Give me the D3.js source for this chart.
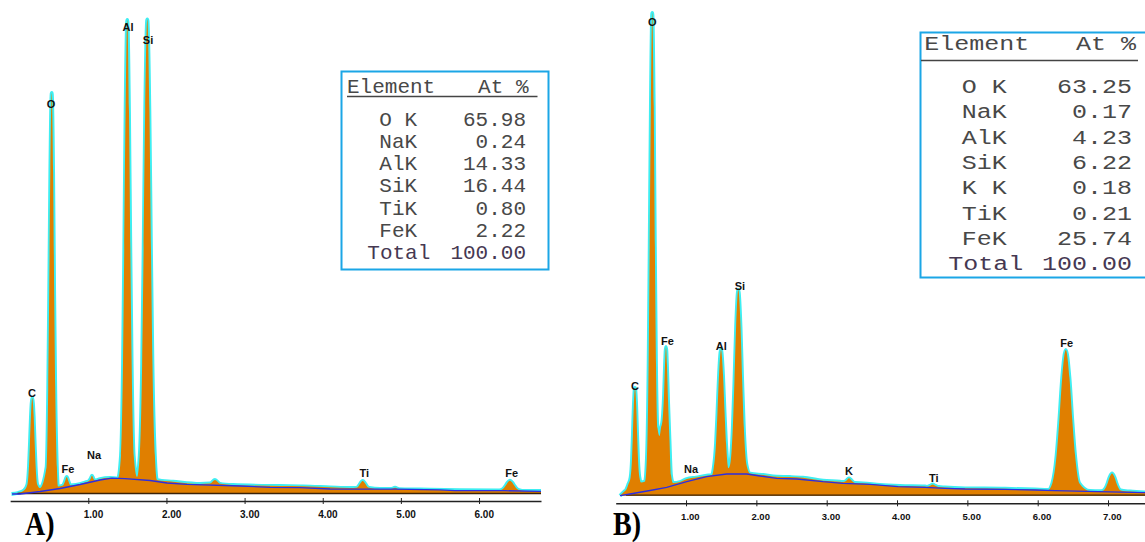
<!DOCTYPE html>
<html><head><meta charset="utf-8">
<script src="https://cdn.jsdelivr.net/npm/d3@7"></script>
<style>body{margin:0;background:#fff}svg{display:block}</style>
</head><body>
<svg id="c" width="1145" height="542"></svg>
<script>
// ---------------- DATA ----------------
const ticksA = [1, 2, 3, 4, 5, 6];
const ticksB = [1, 2, 3, 4, 5, 6, 7];

// spectrum A: [energy keV, counts]
const spectrumA = [
[0.017,0],[0.100,10],[0.177,35],
[0.221,96],[0.241,278],[0.253,505],[0.266,778],[0.283,960],[0.301,778],[0.314,505],[0.326,278],[0.346,96],
[0.382,60],
[0.466,267],[0.487,1055],[0.500,2040],[0.514,3222],[0.532,4010],[0.550,3222],[0.563,2040],[0.577,1055],[0.598,267],
[0.612,75],
[0.676,85],[0.701,125],[0.724,170],[0.747,125],[0.771,85],
[0.843,90],[0.958,115],
[1.009,130],[1.031,155],[1.047,183],[1.064,155],[1.086,135],
[1.150,150],[1.278,162],[1.380,157],
[1.418,384],[1.444,1301],[1.460,2448],[1.477,3823],[1.499,4740],[1.521,3823],[1.538,2448],[1.555,1301],[1.581,384],
[1.623,170],
[1.658,385],[1.689,1303],[1.708,2451],[1.728,3829],[1.755,4747],[1.782,3829],[1.802,2451],[1.821,1303],[1.852,385],
[1.879,140],[2.084,123],[2.429,100],
[2.557,105],[2.621,140],[2.685,102],
[2.852,90],[3.453,80],[3.747,77],[4.093,67],[4.349,60],
[4.429,62],[4.456,76],[4.472,94],[4.490,116],[4.511,130],[4.533,116],[4.551,94],[4.566,76],[4.593,62],
[4.733,50],
[4.873,50],[4.925,63],[4.976,49],
[5.245,45],[5.756,38],[6.243,35],
[6.283,40],[6.319,60],[6.342,84],[6.365,113],[6.396,133],[6.427,113],[6.451,84],[6.473,60],[6.509,40],
[6.588,30],[6.793,30]
];
const backgroundA = [
[0.024,0],[0.126,0],[0.382,25],[0.638,55],[0.894,95],[1.150,140],[1.303,158],[1.470,153],[1.790,135],
[2.007,110],[2.263,97],[2.941,80],[3.325,67],[3.709,63],[4.093,50],[4.925,48],[5.501,41],[5.692,33],
[6.332,33],[6.793,27]
];
const peakLabelsA = ["C","O","Fe","Na","Al","Si","Ti","Fe"];
const peakLabelEnergyA = [0.280,0.523,0.740,1.073,1.508,1.764,4.532,6.418];
const peakLabelCountsA = [970,3860,207,347,4633,4497,167,167];

const spectrumB = [
[0.061,0],[0.132,47],[0.147,57],[0.182,117],
[0.212,184],[0.232,372],[0.244,607],[0.257,889],[0.274,1077],[0.292,889],[0.305,607],[0.317,372],[0.337,184],
[0.360,132],[0.417,142],
[0.444,381],[0.468,1317],[0.483,2487],[0.500,3891],[0.520,4827],[0.541,3891],[0.557,2487],[0.573,1317],[0.594,677],[0.623,597],[0.644,677],
[0.666,757],[0.687,1007],[0.701,1307],[0.715,1487],[0.729,1307],[0.744,957],[0.765,557],[0.786,207],[0.815,127],
[0.914,137],[1.010,167],[1.142,182],[1.294,200],[1.369,207],
[1.393,274],[1.426,523],[1.447,835],[1.469,1208],[1.497,1457],[1.526,1208],[1.548,835],[1.569,523],[1.602,274],
[1.628,314],[1.665,681],[1.688,1140],[1.712,1690],[1.743,2057],[1.775,1690],[1.799,1140],[1.822,681],[1.858,314],
[1.910,222],[2.095,207],[2.289,190],[2.478,187],[2.663,180],[2.948,150],[3.189,140],
[3.232,137],[3.275,147],[3.296,162],[3.317,174],[3.339,162],[3.360,147],[3.403,127],
[3.516,124],[3.758,107],[4.043,97],[4.398,92],
[4.426,89],[4.469,99],[4.507,112],[4.546,99],[4.589,87],
[4.682,82],[4.967,74],[5.536,70],[5.962,62],[6.147,57],
[6.208,125],[6.269,406],[6.308,756],[6.348,1177],[6.400,1457],[6.452,1177],[6.492,756],[6.531,406],[6.592,125],
[6.744,47],[6.886,45],
[6.935,53],[6.974,89],[6.998,133],[7.024,186],[7.057,222],[7.090,186],[7.116,133],[7.140,89],[7.179,53],
[7.313,42],[7.526,32]
];
const backgroundB = [
[0.061,0],[0.203,17],[0.488,52],[0.725,84],[1.010,140],[1.294,190],[1.578,217],[1.863,217],[2.052,197],
[2.289,174],[2.574,167],[2.948,140],[3.232,124],[3.616,114],[4.014,90],[4.398,84],[4.682,74],[4.967,67],
[5.536,64],[5.962,57],[6.246,50],[6.858,40],[7.526,30]
];
const peakLabelsB = ["C","O","Fe","Na","Al","Si","K","Ti","Fe"];
const peakLabelEnergyB = [0.274,0.520,0.737,1.071,1.502,1.767,3.317,4.522,6.413];
const peakLabelCountsB = [1057,4697,1507,230,1457,2057,207,140,1490];

const tableHeader = ["Element", "At %"];
const elementsA = ["O K","NaK","AlK","SiK","TiK","FeK","Total"];
const atPercentA = ["65.98","0.24","14.33","16.44","0.80","2.22","100.00"];
const elementsB = ["O K","NaK","AlK","SiK","K K","TiK","FeK","Total"];
const atPercentB = ["63.25","0.17","4.23","6.22","0.18","0.21","25.74","100.00"];
const panelTags = ["A)", "B)"];

// ---------------- DRAW ----------------
const svg = d3.select("#c");

function drawPanel(p) {
  const x = d3.scaleLinear().domain(p.xDomain).range(p.xRange);
  const y = d3.scaleLinear().domain(p.yDomain).range(p.yRange);
  const g = svg.append("g");
  const line = d3.line().x(d => x(d[0])).y(d => y(d[1])).curve(d3.curveMonotoneX);
  const area = d3.area().x(d => x(d[0])).y0(y(0)).y1(d => y(d[1])).curve(d3.curveMonotoneX);
  g.append("path").datum(p.spectrum).attr("d", line)
    .attr("fill", "none").attr("stroke", "#3eeef2").attr("stroke-width", 3.8).attr("stroke-linejoin", "round");
  g.append("path").datum(p.spectrum).attr("d", area).attr("fill", "#e07f00");
  const last = p.spectrum[p.spectrum.length - 1];
  g.append("line").attr("x1", x(p.spectrum[0][0]) + 6).attr("x2", x(last[0]))
    .attr("y1", y(0) - 0.5).attr("y2", y(0) - 0.5).attr("stroke", "#3a2208").attr("stroke-width", 1.3);
  g.append("path").datum(p.background)
    .attr("d", d3.line().x(d => x(d[0])).y(d => y(d[1])))
    .attr("fill", "none").attr("stroke", "#2c2ee0").attr("stroke-width", 1.3);

  g.selectAll("text.pk").data(p.labels).enter().append("text")
    .attr("class", "pk")
    .attr("x", (d, i) => x(p.labelE[i]))
    .attr("y", (d, i) => y(p.labelC[i]))
    .attr("text-anchor", "middle")
    .attr("font-family", "'Liberation Sans', Arial, sans-serif")
    .attr("font-weight", "bold").attr("font-size", 11).attr("fill", "#111")
    .text(d => d);

  const axis = d3.axisBottom(x).tickValues(p.ticks).tickFormat(d3.format(".2f"))
    .tickSizeInner(3).tickSizeOuter(0);
  const ag = g.append("g").attr("transform", `translate(0,${p.axisY})`).call(axis);
  ag.select(".domain").attr("stroke", "#222").attr("stroke-width", 1.4);
  ag.selectAll(".tick line").attr("y1", -3).attr("y2", 3).attr("stroke", "#222");
  ag.selectAll(".tick text").attr("dy", null).attr("y", p.labelDy).attr("dx", p.labelDx)
    .attr("font-family", "'Liberation Sans', Arial, sans-serif")
    .attr("font-weight", "bold").attr("font-size", p.tickFont).attr("fill", "#111");

  svg.append("text").attr("transform", `translate(${p.tagX},${p.tagY}) scale(0.85,1)`)
    .attr("font-family", "'Liberation Serif', 'Times New Roman', serif")
    .attr("font-weight", "bold").attr("font-size", p.tagFont).attr("fill", "#000").text(p.tag);
}

function drawTable(t) {
  const g = svg.append("g");
  g.append("rect").attr("x", t.box[0]).attr("y", t.box[1]).attr("width", t.box[2]).attr("height", t.box[3])
    .attr("fill", "#fff").attr("stroke", "#1ba6e6").attr("stroke-width", 2);
  const font = "'Liberation Mono', 'Courier New', monospace";
  const txt = (s, xx, yy, anchor, color) => g.append("text")
    .attr("transform", `translate(${xx},${yy}) scale(${t.sx},1)`)
    .attr("text-anchor", anchor).attr("font-family", font).attr("font-size", t.font)
    .attr("fill", color || "#484848").text(s);
  txt(tableHeader[0], t.headX0, t.headY, "start");
  txt(tableHeader[1], t.headX1, t.headY, "end");
  g.append("line").attr("x1", t.ulX0).attr("x2", t.ulX1).attr("y1", t.ulY).attr("y2", t.ulY)
    .attr("stroke", "#444").attr("stroke-width", 1.3);
  t.names.forEach((n, i) => {
    const yy = t.row0 + i * t.rowH;
    const isTotal = i === t.names.length - 1;
    txt(n, isTotal ? t.totalX : t.nameX, yy, "start", isTotal ? "#463852" : null);
    txt(t.vals[i], t.valX, yy, "end", isTotal ? "#463852" : null);
  });
}

drawPanel({
  spectrum: spectrumA, background: backgroundA,
  labels: peakLabelsA, labelE: peakLabelEnergyA, labelC: peakLabelCountsA,
  xDomain: [0, 6.793], xRange: [10.15, 541],
  yDomain: [0, 4800], yRange: [494, 14],
  ticks: ticksA, axisY: 501, labelDy: 17.3, labelDx: 4.7, tickFont: 10,
  tag: panelTags[0], tagX: 25, tagY: 534.5, tagFont: 33
});
drawPanel({
  spectrum: spectrumB, background: backgroundB,
  labels: peakLabelsB, labelE: peakLabelEnergyB, labelC: peakLabelCountsB,
  xDomain: [0, 7.53], xRange: [615.7, 1145.3],
  yDomain: [0, 4830], yRange: [495.7, 12.7],
  ticks: ticksB, axisY: 503.3, labelDy: 16.7, labelDx: 3.8, tickFont: 9.5,
  tag: panelTags[1], tagX: 613, tagY: 535, tagFont: 33
});

drawTable({
  box: [341.5, 71.5, 207, 198], font: 21, sx: 1,
  headX0: 347, headX1: 528.5, headY: 92.5,
  ulX0: 347, ulX1: 537.5, ulY: 96.5,
  names: elementsA, vals: atPercentA,
  row0: 125.7, rowH: 22.2, nameX: 379.3, totalX: 367.3, valX: 526
});
drawTable({
  box: [920.5, 32.5, 240, 245], font: 20, sx: 1.25,
  headX0: 924.3, headX1: 1136, headY: 49.7,
  ulX0: 921, ulX1: 1138, ulY: 60.5,
  names: elementsB, vals: atPercentB,
  row0: 93, rowH: 25.3, nameX: 961.7, totalX: 948.3, valX: 1132
});
</script>
</body></html>
